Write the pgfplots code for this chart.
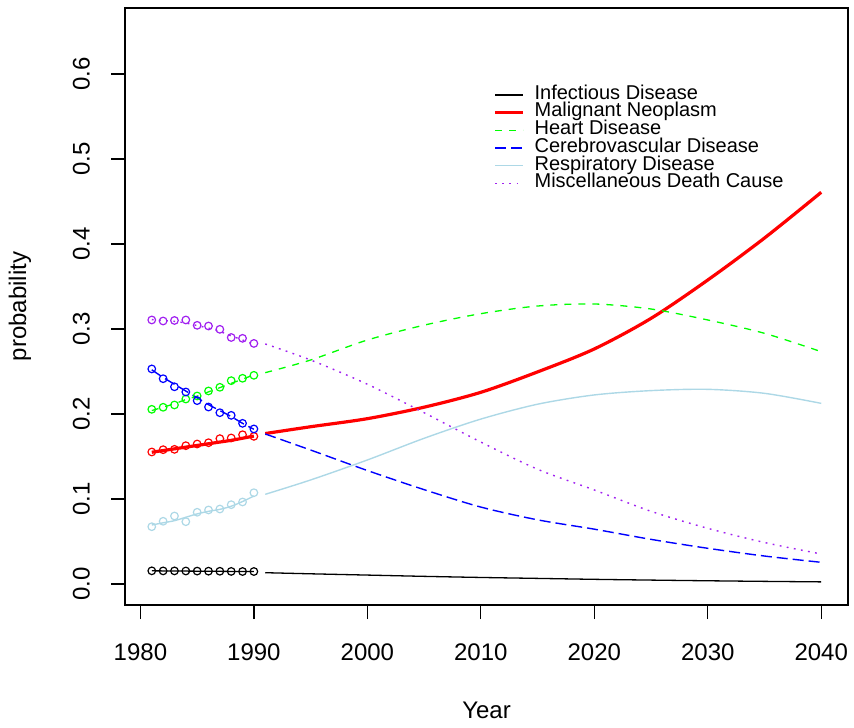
\documentclass[border=0pt]{standalone}
\usepackage{pgfplots}
\pgfplotsset{compat=1.18}
\usepackage{fontspec}
\setmainfont{Liberation Sans}
\definecolor{rgreen}{HTML}{00FF00}
\definecolor{rblue}{HTML}{0000FF}
\definecolor{rred}{HTML}{FF0000}
\definecolor{rlightblue}{HTML}{ADD8E6}
\definecolor{rpurple}{HTML}{A020F0}
\pgfplotsset{
  infst/.style={black, line width=0.65pt},
  malst/.style={rred, line width=1.6pt},
  heast/.style={rgreen, line width=0.65pt, dash pattern=on 3.5pt off 3.5pt},
  cerst/.style={rblue, line width=0.7pt, dash pattern=on 5.5pt off 2.5pt},
  resst/.style={rlightblue, line width=0.7pt},
  misst/.style={rpurple, line width=0.7pt, dash pattern=on 0.9pt off 2.7pt},
  pts/.style={only marks, mark=o, mark size=1.9pt, mark options={solid, line width=0.6pt}},
}
% observed points 1981-1990
\pgfplotstableread{
year inf mal hea cer res mis
1981 0.0155 0.1553 0.2055 0.2530 0.0674 0.3106
1982 0.0154 0.1580 0.2079 0.2415 0.0738 0.3094
1983 0.0154 0.1584 0.2106 0.2320 0.0800 0.3100
1984 0.0153 0.1627 0.2176 0.2259 0.0733 0.3106
1985 0.0152 0.1647 0.2212 0.2157 0.0844 0.3043
1986 0.0151 0.1662 0.2271 0.2082 0.0871 0.3035
1987 0.0150 0.1710 0.2314 0.2015 0.0882 0.2996
1988 0.0148 0.1718 0.2392 0.1984 0.0933 0.2900
1989 0.0147 0.1756 0.2420 0.1890 0.0965 0.2890
1990 0.0147 0.1737 0.2455 0.1824 0.1074 0.2830
}\obs
% fitted values 1981-1990
\pgfplotstableread{
year inf mal hea cer res mis
1981 0.0155 0.1550 0.2040 0.2520 0.0694 0.3110
1982 0.0154 0.1570 0.2080 0.2430 0.0720 0.3100
1983 0.0153 0.1590 0.2120 0.2350 0.0745 0.3090
1984 0.0152 0.1610 0.2170 0.2270 0.0785 0.3070
1985 0.0151 0.1630 0.2210 0.2190 0.0825 0.3040
1986 0.0150 0.1650 0.2260 0.2110 0.0855 0.3010
1987 0.0149 0.1670 0.2310 0.2040 0.0878 0.2970
1988 0.0148 0.1690 0.2360 0.1970 0.0915 0.2920
1989 0.0147 0.1715 0.2410 0.1890 0.0970 0.2870
1990 0.0146 0.1740 0.2460 0.1820 0.1035 0.2820
}\fit
% projections 1991-2040
\pgfplotstableread{
year inf mal hea cer res mis
1991 0.0133 0.1770 0.2486 0.1765 0.1055 0.2824
1995 0.0120 0.1850 0.2635 0.1576 0.1224 0.2635
2000 0.0105 0.1945 0.2870 0.1335 0.1459 0.2350
2005 0.0090 0.2080 0.3045 0.1110 0.1714 0.2015
2010 0.0077 0.2255 0.3180 0.0905 0.1940 0.1670
2015 0.0066 0.2495 0.3270 0.0755 0.2115 0.1350
2020 0.0055 0.2765 0.3294 0.0645 0.2224 0.1106
2025 0.0046 0.3125 0.3235 0.0525 0.2275 0.0855
2030 0.0038 0.3576 0.3106 0.0420 0.2290 0.0655
2035 0.0031 0.4070 0.2949 0.0329 0.2243 0.0488
2040 0.0025 0.4608 0.2733 0.0255 0.2125 0.0353
}\proj
\begin{document}
\begin{tikzpicture}
\useasboundingbox (0,0) rectangle (427pt,363.5pt);
\begin{axis}[
  at={(62.5pt,61pt)}, anchor=south west,
  scale only axis, width=361.5pt, height=298.5pt,
  xmin=1978.64, xmax=2042.36, ymin=-0.0247, ymax=0.6776,
  xtick={1980,1990,2000,2010,2020,2030,2040},
  ytick={0,0.1,0.2,0.3,0.4,0.5,0.6},
  tick align=outside, major tick length=7pt,
  xtick pos=bottom, ytick pos=left,
  tick style={black, line width=0.6pt},
  axis line style={line width=0.6pt},
  every tick label/.append style={font=\fontsize{12}{12}\selectfont},
  xticklabel style={/pgf/number format/.cd, 1000 sep={}, assume math mode=true},
  yticklabel style={rotate=90, anchor=south, /pgf/number format/.cd, fixed, fixed zerofill, precision=1, assume math mode=true},
  xticklabel shift=9pt, yticklabel shift=7pt,
  xlabel={Year}, ylabel={probability},
  label style={font=\fontsize{12}{12}\selectfont},
  xlabel style={at={(axis description cs:0.5,-0.1759)}, anchor=center},
  ylabel style={at={(axis description cs:-0.1452,0.5)}, anchor=center},
  legend style={draw=none, fill=none, at={(0.509,0.870)}, anchor=north west,
    inner sep=0pt, row sep=0pt, font=\fontsize{10}{10}\selectfont,
    nodes={inner sep=0pt, text height=6.6pt, text depth=2.25pt},
    /tikz/every odd column/.style={column sep=5pt}},
  legend cell align=left,
  legend image code/.code={\draw[#1] (0pt,0pt) -- (14pt,0pt);},
  clip=true,
]
% projections (legend)
\addplot[infst, smooth] table[x=year, y=inf] {\proj};
\addlegendentry{Infectious Disease}
\addplot[malst, smooth] table[x=year, y=mal] {\proj};
\addlegendentry{Malignant Neoplasm}
\addplot[heast, smooth] table[x=year, y=hea] {\proj};
\addlegendentry{Heart Disease}
\addplot[cerst, smooth] table[x=year, y=cer] {\proj};
\addlegendentry{Cerebrovascular Disease}
\addplot[resst, smooth] table[x=year, y=res] {\proj};
\addlegendentry{Respiratory Disease}
\addplot[misst, smooth] table[x=year, y=mis] {\proj};
\addlegendentry{Miscellaneous Death Cause}
% fitted 1981-1990
\addplot[infst, smooth, forget plot] table[x=year, y=inf] {\fit};
\addplot[malst, smooth, forget plot] table[x=year, y=mal] {\fit};
\addplot[heast, smooth, forget plot] table[x=year, y=hea] {\fit};
\addplot[cerst, smooth, forget plot] table[x=year, y=cer] {\fit};
\addplot[resst, smooth, forget plot] table[x=year, y=res] {\fit};
\addplot[misst, smooth, forget plot] table[x=year, y=mis] {\fit};
% observed points
\addplot[pts, black, forget plot] table[x=year, y=inf] {\obs};
\addplot[pts, rred, forget plot] table[x=year, y=mal] {\obs};
\addplot[pts, rgreen, forget plot] table[x=year, y=hea] {\obs};
\addplot[pts, rblue, forget plot] table[x=year, y=cer] {\obs};
\addplot[pts, rlightblue, forget plot] table[x=year, y=res] {\obs};
\addplot[pts, rpurple, forget plot] table[x=year, y=mis] {\obs};
\end{axis}
\end{tikzpicture}
\end{document}
